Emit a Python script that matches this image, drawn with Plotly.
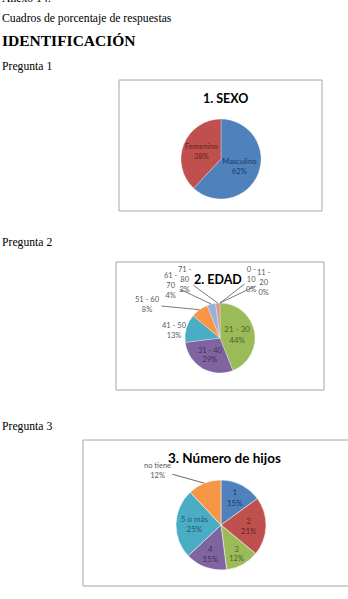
import math
import plotly.graph_objects as go

W, H = 348, 599

# ---------------- data ----------------
sexo_labels = ["Masculino", "Femenino"]
sexo_values = [62, 38]

edad_labels = ["0 - 10", "11 - 20", "21 - 30", "31 - 40", "41 - 50", "51 - 60", "61 - 70", "71 - 80"]
edad_values = [0, 0, 44, 29, 13, 8, 4, 2]

hijos_labels = ["1", "2", "3", "4", "5 o más", "no tiene"]
hijos_values = [15, 21, 12, 15, 25, 12]

doc_lines = ["Anexo 14:", "Cuadros de porcentaje de respuestas"]
section_title = "IDENTIFICACIÓN"
question_labels = ["Pregunta 1", "Pregunta 2", "Pregunta 3"]
chart_titles = ["1. SEXO", "2. EDAD", "3. Número de hijos"]

# ---------------- styles ----------------
C = ["#4F81BD", "#C0504D", "#9BBB59", "#8064A2", "#4BACC6", "#F79646", "#95B3D7", "#D99694"]
CT = ["#1F3A60", "#632523", "#4F6228", "#3F3151", "#215968", "#984807", "#1F3A60", "#632523"]
PIEFONT = "Lato, Calibri, Carlito, sans-serif"
SERIF = "Liberation Serif, Times New Roman, serif"
GRAY = "#595959"


def fx(x):
    return x / W


def fy(y):
    return 1 - y / H


def dom(cx, cy, r):
    return dict(x=[fx(cx - r), fx(cx + r)], y=[fy(cy + r), fy(cy - r)])


fig = go.Figure()

# pie geometry (pixels)
P1 = (221, 159, 40)
P2 = (220, 338, 35)
P3 = (221, 525, 45)

fig.add_trace(go.Pie(
    labels=sexo_labels, values=sexo_values, sort=False, direction="clockwise", rotation=0,
    domain=dom(*P1), marker=dict(colors=C[:2], line=dict(color="white", width=0.3)),
    texttemplate="%{label}<br>%{percent:.0%}", textposition="inside",
    insidetextorientation="horizontal",
    insidetextfont=dict(family=PIEFONT, size=8, color=CT[:2]),
    showlegend=False, hoverinfo="label+percent"))

pos2 = ["inside" if i in (2, 3) else "none" for i in range(len(edad_values))]
fig.add_trace(go.Pie(
    labels=edad_labels, values=edad_values, sort=False, direction="clockwise", rotation=0,
    domain=dom(*P2), marker=dict(colors=C, line=dict(color="white", width=0.3)),
    texttemplate="%{label}<br>%{percent:.0%}", textposition=pos2,
    insidetextorientation="horizontal",
    insidetextfont=dict(family=PIEFONT, size=8, color=CT),
    showlegend=False, hoverinfo="label+percent"))

pos3 = ["inside"] * 5 + ["none"]
fig.add_trace(go.Pie(
    labels=hijos_labels, values=hijos_values, sort=False, direction="clockwise", rotation=0,
    domain=dom(*P3), marker=dict(colors=C[:6], line=dict(color="white", width=0.5)),
    texttemplate="%{label}<br>%{percent:.0%}", textposition=pos3,
    insidetextorientation="horizontal",
    insidetextfont=dict(family=PIEFONT, size=8, color=CT[:6]),
    showlegend=False, hoverinfo="label+percent"))

ann = []
# document text
ann.append(dict(text=doc_lines[0], x=0, y=fy(-2), xref="paper", yref="paper", xanchor="left",
                yanchor="middle", showarrow=False, font=dict(family=SERIF, size=11.7, color="black")))
ann.append(dict(text=doc_lines[1], x=0, y=fy(19), xref="paper", yref="paper", xanchor="left",
                yanchor="middle", showarrow=False, font=dict(family=SERIF, size=11.7, color="black")))
ann.append(dict(text="<b>" + section_title + "</b>", x=0, y=fy(41), xref="paper", yref="paper",
                xanchor="left", yanchor="middle", showarrow=False,
                font=dict(family=SERIF, size=15.5, color="black")))
for q, yy in zip(question_labels, [66, 243, 426]):
    ann.append(dict(text=q, x=0, y=fy(yy), xref="paper", yref="paper", xanchor="left",
                    yanchor="middle", showarrow=False, font=dict(family=SERIF, size=11.7, color="black")))

# chart titles
for t, (xx, yy, sz) in zip(chart_titles, [(225, 98, 12.5), (218, 279, 12.5), (224, 458, 13.5)]):
    ann.append(dict(text="<b>" + t + "</b>", x=fx(xx), y=fy(yy), xref="paper", yref="paper",
                    xanchor="center", yanchor="middle", showarrow=False,
                    font=dict(family=PIEFONT, size=sz, color="black")))


def edge_point(cx, cy, r, values, i, k=1.0):
    tot = sum(values)
    start = sum(values[:i]) / tot
    mid = (start + values[i] / tot / 2) * 2 * math.pi
    return cx + k * r * math.sin(mid), cy - k * r * math.cos(mid)


def pct(values, i):
    return "%d%%" % round(100 * values[i] / sum(values))


# outside labels for pie 2 (offsets in px)
offs2 = {0: (31, -24, True), 1: (44, -21, True), 7: (-33, -24, True), 6: (-40, -19, True),
         5: (-52, -5, True), 4: (-12, 2, False)}
text2 = {0: "0 -<br>10", 1: "11 -<br>20", 6: "61 -<br>70", 7: "71 -<br>80", 5: "51 - 60", 4: "41 - 50"}
for i, (ax, ay, line) in offs2.items():
    tx, ty = edge_point(*P2, edad_values, i)
    ann.append(dict(text=text2[i] + "<br>" + pct(edad_values, i), x=fx(tx), y=fy(ty),
                    xref="paper", yref="paper", ax=ax, ay=ay, showarrow=True, arrowhead=0,
                    arrowwidth=0.8, arrowcolor=GRAY if line else "rgba(0,0,0,0)",
                    standoff=0, align="center",
                    font=dict(family=PIEFONT, size=7.5, color=GRAY)))

# outside label for pie 3
tx, ty = edge_point(*P3, hijos_values, 5)
ann.append(dict(text=hijos_labels[5] + "<br>" + pct(hijos_values, 5), x=fx(tx), y=fy(ty),
                xref="paper", yref="paper", ax=-47, ay=-13, showarrow=True, arrowhead=0,
                arrowwidth=0.8, arrowcolor="#404040", standoff=0, align="center",
                font=dict(family=PIEFONT, size=7.5, color=GRAY)))

# chart frames
shapes = []
for x0, y0, x1, y1 in [(119, 80, 322, 211), (116, 262, 324, 390), (83, 440, 352, 586)]:
    shapes.append(dict(type="rect", xref="paper", yref="paper", x0=fx(x0), x1=fx(x1),
                       y0=fy(y1), y1=fy(y0), line=dict(color="#A6A6A6", width=1),
                       fillcolor="rgba(0,0,0,0)", layer="below"))

fig.update_layout(width=W, height=H, margin=dict(l=0, r=0, t=0, b=0),
                  paper_bgcolor="white", plot_bgcolor="white",
                  annotations=ann, shapes=shapes, showlegend=False)

fig.write_html("out.html")
